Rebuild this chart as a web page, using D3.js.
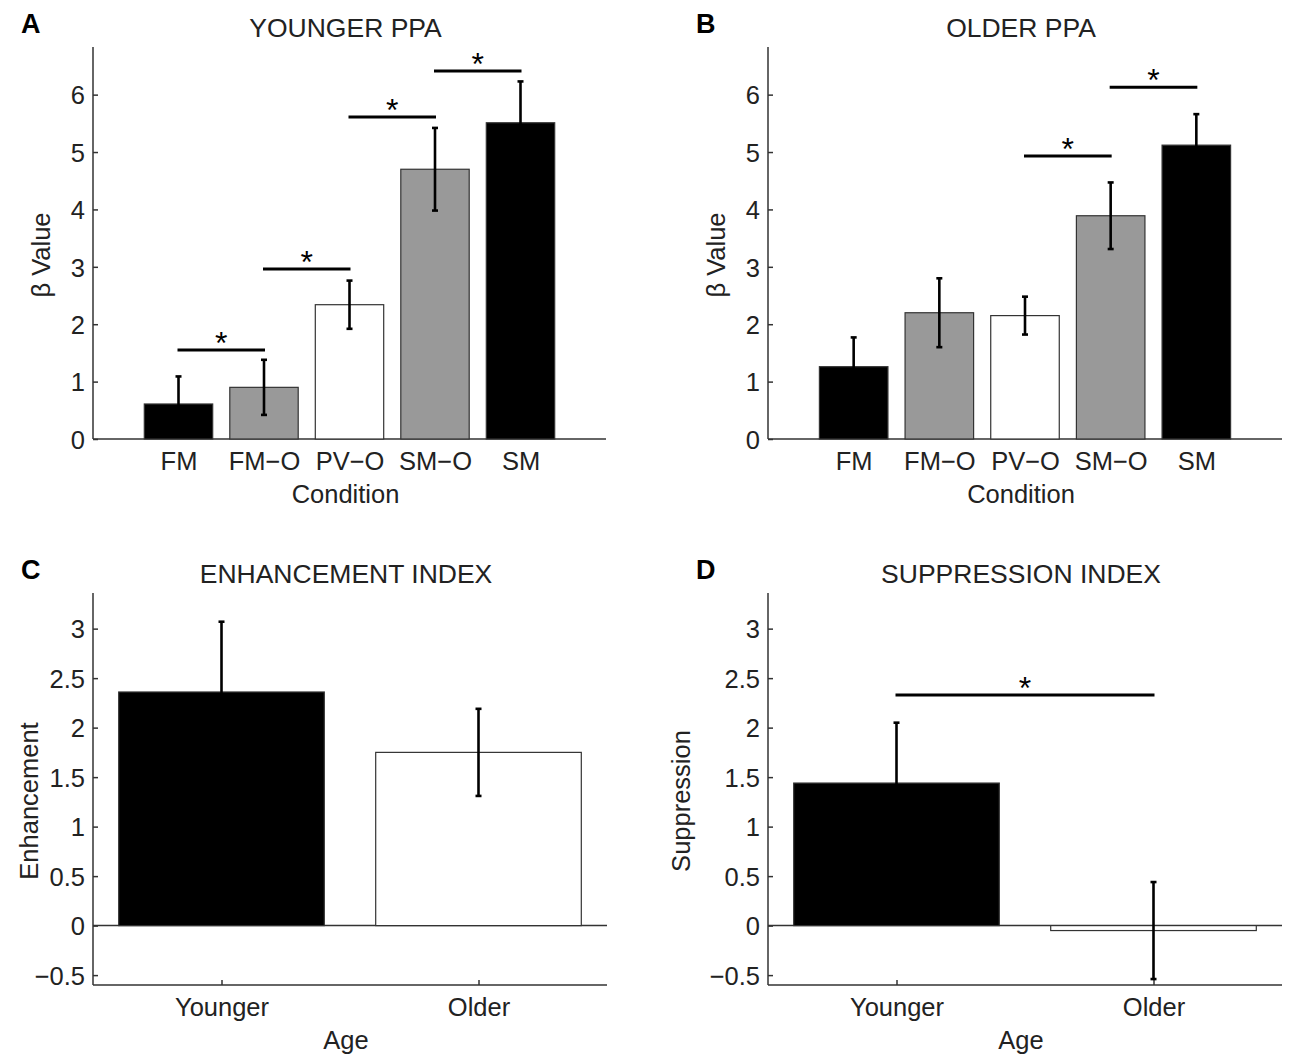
<!DOCTYPE html>
<html>
<head>
<meta charset="utf-8">
<script src="https://d3js.org/d3.v7.min.js"></script>
<style>
  body { margin: 0; background: #fff; }
  svg text { font-family: "Liberation Sans", Arial, Helvetica, sans-serif; fill: #222; }
</style>
</head>
<body>
<svg id="fig" width="1290" height="1057"></svg>
<script>
// ---- data ----
const conditions = ["FM", "FM\u2212O", "PV\u2212O", "SM\u2212O", "SM"];
const conditionFills = ["#000", "#999", "#fff", "#999", "#000"];

const youngerPPA    = [0.61, 0.90, 2.34, 4.70, 5.51];
const youngerPPAErr = [0.48, 0.48, 0.42, 0.72, 0.72];
// significance brackets: [from index, to index, height]
const youngerPPASig = [[0, 1, 1.55], [1, 2, 2.96], [2, 3, 5.61], [3, 4, 6.41]];

const olderPPA    = [1.26, 2.20, 2.15, 3.89, 5.12];
const olderPPAErr = [0.51, 0.60, 0.33, 0.58, 0.54];
const olderPPASig = [[2, 3, 4.93], [3, 4, 6.13]];

const ages = ["Younger", "Older"];
const ageFills = ["#000", "#fff"];
const enhancement    = [2.36, 1.75];
const enhancementErr = [0.71, 0.44];
const suppression    = [1.44, -0.05];
const suppressionErr = [0.61, 0.49];
const suppressionSig = [[0, 1, 2.33]];

const ppaTicks = [0, 1, 2, 3, 4, 5, 6];
const indexTicks = [-0.5, 0, 0.5, 1, 1.5, 2, 2.5, 3];

const svg = d3.select("#fig");
const FS = "25.5px";

function drawPanel(o) {
  const g = svg.append("g");
  const n = o.cats.length;
  const x = d3.scaleLinear().domain(o.xlim).range([o.left, o.right]);
  const y = d3.scaleLinear().domain(o.ylim).range([o.bottom, o.top]);
  const bw = (x(1) - x(0)) * 0.8;

  // panel letter and title
  g.append("text").attr("x", o.left - 72).attr("y", o.top - 14)
    .style("font-weight", "bold").style("font-size", "27px").style("fill", "#000")
    .text(o.letter);
  g.append("text").attr("x", (o.left + o.right) / 2 - 4).attr("y", o.top - 10)
    .attr("text-anchor", "middle").style("font-size", "26.5px").text(o.title);

  // y axis
  const yAxis = d3.axisLeft(y).tickValues(o.yticks).tickSize(-5).tickPadding(8)
    .tickFormat(d => d < 0 ? "\u2212" + Math.abs(d) : d);
  const ya = g.append("g").attr("transform", `translate(${o.left},0)`).call(yAxis);
  ya.select(".domain").remove();
  ya.selectAll("line").attr("stroke", "#333").attr("stroke-width", 1.5);
  ya.selectAll("text").style("font-size", FS).attr("dy", "0.36em");
  g.append("line").attr("x1", o.left).attr("x2", o.left)
    .attr("y1", o.top).attr("y2", o.bottom).attr("stroke", "#333").attr("stroke-width", 1.5);

  // x axis along bottom
  const xAxis = d3.axisBottom(x).tickValues(d3.range(1, n + 1)).tickSize(-5).tickPadding(13)
    .tickFormat((d, i) => o.cats[i]);
  const xa = g.append("g").attr("transform", `translate(0,${o.bottom})`).call(xAxis);
  xa.select(".domain").remove();
  xa.selectAll("line").attr("stroke", "#333").attr("stroke-width", 1.5);
  xa.selectAll("text").style("font-size", FS);
  g.append("line").attr("x1", o.left).attr("x2", o.right)
    .attr("y1", o.bottom).attr("y2", o.bottom).attr("stroke", "#333").attr("stroke-width", 1.5);

  // axis labels
  g.append("text").attr("x", (o.left + o.right) / 2 - 4).attr("y", o.bottom + 64)
    .attr("text-anchor", "middle").style("font-size", FS).text(o.xlabel);
  g.append("text")
    .attr("transform", `translate(${o.left + o.ylabelDx},${(o.top + o.bottom) / 2 + 12}) rotate(-90)`)
    .attr("text-anchor", "middle").style("font-size", FS).text(o.ylabel);

  // zero line
  if (o.ylim[0] < 0) {
    g.append("line").attr("x1", o.left).attr("x2", o.right)
      .attr("y1", y(0)).attr("y2", y(0)).attr("stroke", "#333").attr("stroke-width", 1.5);
  }

  // bars
  g.selectAll(".bar").data(o.values).enter().append("rect")
    .attr("x", (d, i) => x(i + 1) - bw / 2)
    .attr("y", d => y(Math.max(0, d)))
    .attr("width", bw)
    .attr("height", d => Math.abs(y(d) - y(0)))
    .attr("fill", (d, i) => o.fills[i])
    .attr("stroke", "#333").attr("stroke-width", 1.2);

  // error bars
  const eb = g.selectAll(".err").data(o.values).enter().append("g");
  eb.append("line")
    .attr("x1", (d, i) => x(i + 1)).attr("x2", (d, i) => x(i + 1))
    .attr("y1", (d, i) => y(d - o.errs[i])).attr("y2", (d, i) => y(d + o.errs[i]))
    .attr("stroke", "#000").attr("stroke-width", 2.6);
  [-1, 1].forEach(s => {
    eb.append("line")
      .attr("x1", (d, i) => x(i + 1) - 3).attr("x2", (d, i) => x(i + 1) + 3)
      .attr("y1", (d, i) => y(d + s * o.errs[i])).attr("y2", (d, i) => y(d + s * o.errs[i]))
      .attr("stroke", "#000").attr("stroke-width", 2.6);
  });

  // significance lines
  const sg = g.selectAll(".sig").data(o.sig || []).enter().append("g");
  sg.append("line")
    .attr("x1", d => x(d[0] + 1) - 1).attr("x2", d => x(d[1] + 1) + 1)
    .attr("y1", d => y(d[2])).attr("y2", d => y(d[2]))
    .attr("stroke", "#000").attr("stroke-width", 3);
  sg.append("text")
    .attr("x", d => (x(d[0] + 1) + x(d[1] + 1)) / 2)
    .attr("y", d => y(d[2]) + 4)
    .attr("text-anchor", "middle").style("font-size", "32px").style("fill", "#000")
    .text("*");
}

drawPanel({ letter: "A", title: "YOUNGER PPA", cats: conditions, fills: conditionFills,
  values: youngerPPA, errs: youngerPPAErr, sig: youngerPPASig,
  xlim: [0, 6], ylim: [0, 6.83], yticks: ppaTicks,
  left: 93, right: 606, top: 47, bottom: 439,
  xlabel: "Condition", ylabel: "\u03b2 Value", ylabelDx: -43 });

drawPanel({ letter: "B", title: "OLDER PPA", cats: conditions, fills: conditionFills,
  values: olderPPA, errs: olderPPAErr, sig: olderPPASig,
  xlim: [0, 6], ylim: [0, 6.83], yticks: ppaTicks,
  left: 768, right: 1282, top: 47, bottom: 439,
  xlabel: "Condition", ylabel: "\u03b2 Value", ylabelDx: -43 });

drawPanel({ letter: "C", title: "ENHANCEMENT INDEX", cats: ages, fills: ageFills,
  values: enhancement, errs: enhancementErr, sig: [],
  xlim: [0.5, 2.5], ylim: [-0.6, 3.36], yticks: indexTicks,
  left: 93, right: 607, top: 593, bottom: 985,
  xlabel: "Age", ylabel: "Enhancement", ylabelDx: -55 });

drawPanel({ letter: "D", title: "SUPPRESSION INDEX", cats: ages, fills: ageFills,
  values: suppression, errs: suppressionErr, sig: suppressionSig,
  xlim: [0.5, 2.5], ylim: [-0.6, 3.36], yticks: indexTicks,
  left: 768, right: 1282, top: 593, bottom: 985,
  xlabel: "Age", ylabel: "Suppression", ylabelDx: -78 });
</script>
</body>
</html>
